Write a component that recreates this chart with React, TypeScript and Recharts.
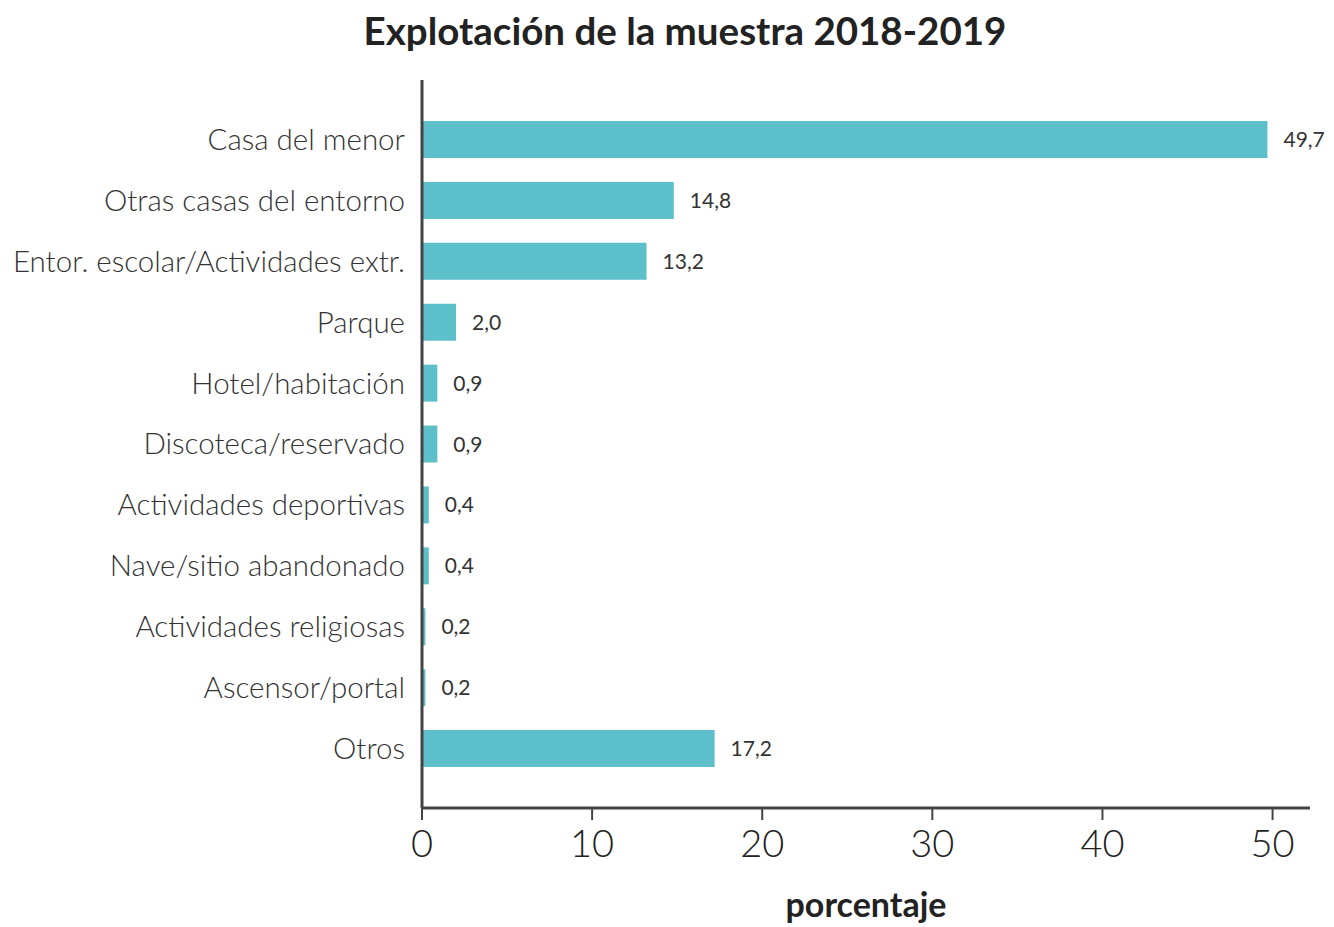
import React from 'react'
import { BarChart, Bar, XAxis, YAxis, LabelList, Label } from 'recharts'

const categories = [
  'Casa del menor',
  'Otras casas del entorno',
  'Entor. escolar/Actividades extr.',
  'Parque',
  'Hotel/habitación',
  'Discoteca/reservado',
  'Actividades deportivas',
  'Nave/sitio abandonado',
  'Actividades religiosas',
  'Ascensor/portal',
  'Otros',
]

const percentages = [49.7, 14.8, 13.2, 2.0, 0.9, 0.9, 0.4, 0.4, 0.2, 0.2, 17.2]

const xTicks = [0, 10, 20, 30, 40, 50]

const data = categories.map((name, i) => ({ name, value: percentages[i] }))

const font = 'Lato, "Open Sans", sans-serif'

const App = () => {
  return (
    <div style={{ position: 'absolute', left: 0, top: 0, width: 1334, height: 927, background: '#fff' }}>
      <div
        style={{
          position: 'absolute',
          left: 0,
          width: 1370,
          top: 7,
          textAlign: 'center',
          fontFamily: font,
          fontWeight: 700,
          fontSize: 38.5,
          color: '#222',
        }}
      >
        Explotación de la muestra 2018-2019
      </div>
      <BarChart
        width={1334}
        height={927}
        data={data}
        layout="vertical"
        margin={{ top: 80, right: 24, bottom: 0, left: 0 }}
      >
        <XAxis
          type="number"
          domain={[0, 52.2]}
          ticks={xTicks}
          height={119}
          axisLine={{ stroke: '#444', strokeWidth: 3 }}
          tickLine={{ stroke: '#444', strokeWidth: 2 }}
          tickSize={12}
          tickMargin={10}
          tick={{ fill: '#222', fontSize: 38, fontFamily: font, fontWeight: 300 }}
        >
          <Label
            value="porcentaje"
            position="insideBottom"
            offset={10}
            style={{ fill: '#222', fontSize: 34, fontWeight: 700, fontFamily: font }}
          />
        </XAxis>
        <YAxis
          type="category"
          dataKey="name"
          width={422}
          padding={{ top: 29, bottom: 29 }}
          axisLine={{ stroke: '#444', strokeWidth: 3 }}
          tickLine={false}
          tickSize={0}
          tickMargin={17}
          interval={0}
          tick={{ fill: '#333', fontSize: 29.5, fontFamily: font, fontWeight: 300 }}
        />
        <Bar dataKey="value" fill="#5cbfc9" barSize={37} isAnimationActive={false}>
          <LabelList
            dataKey="value"
            position="right"
            offset={16}
            formatter={(v: any) => Number(v).toFixed(1).replace('.', ',')}
            style={{ fill: '#333', fontSize: 21, fontFamily: font, fontWeight: 400 }}
          />
        </Bar>
      </BarChart>
    </div>
  )
}

export default App
